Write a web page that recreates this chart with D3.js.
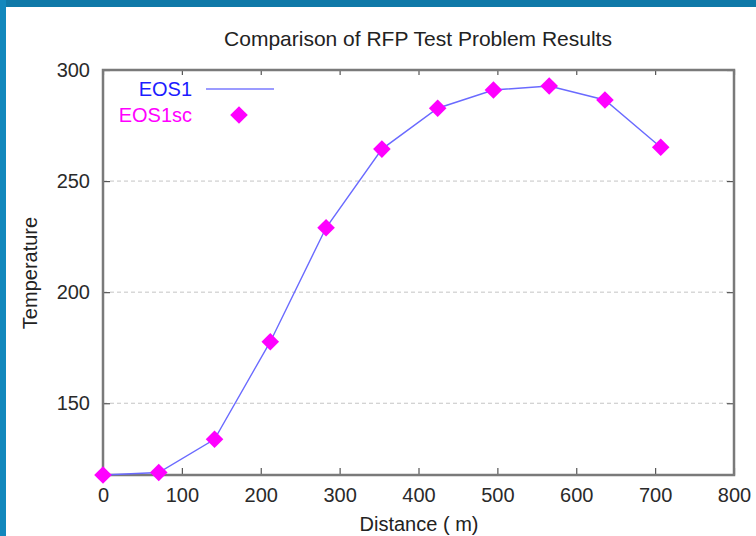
<!DOCTYPE html>
<html>
<head>
<meta charset="utf-8">
<script src="https://cdn.jsdelivr.net/npm/d3@7"></script>
<style>
  html, body { margin: 0; padding: 0; background: #fff; }
  svg { display: block; }
  text { font-family: "Liberation Sans", Arial, sans-serif; }
</style>
</head>
<body>
<div id="chart"></div>
<script>
// ---- data ----
const title = "Comparison of RFP Test Problem Results";
const xLabel = "Distance ( m)";
const yLabel = "Temperature";
const distance = [0, 70.7, 141.4, 212.1, 282.8, 353.6, 424.3, 495.0, 565.7, 636.4, 707.1];
const eos1     = [117.7, 118.8, 133.8, 177.7, 229.0, 264.4, 282.8, 291.0, 292.8, 286.5, 265.2];
const eos1sc   = [117.7, 118.8, 133.8, 177.7, 229.0, 264.4, 282.8, 291.0, 292.8, 286.5, 265.2];
const seriesNames = ["EOS1", "EOS1sc"];
const xTicks = [0, 100, 200, 300, 400, 500, 600, 700, 800];
const yTicks = [150, 200, 250, 300];
const xMax = 800, yMax = 300;

// ---- layout ----
const W = 756, H = 536;
const L = 103, R = 734, T = 70, B = 475;

const svg = d3.select("#chart").append("svg").attr("width", W).attr("height", H);

// blue frame (top and left)
svg.append("rect").attr("x", 0).attr("y", 0).attr("width", W).attr("height", 7).attr("fill", "#0f79a8");
svg.append("rect").attr("x", 0).attr("y", 0).attr("width", 6).attr("height", H).attr("fill", "#1288bd");

const x = d3.scaleLinear().domain([0, xMax]).range([L, R]);
const y = d3.scaleLinear().domain([d3.min(eos1sc), yMax]).range([B, T]);

// grid lines
svg.append("g").selectAll("line").data(yTicks.filter(t => t < yMax)).join("line")
  .attr("x1", L).attr("x2", R).attr("y1", d => y(d)).attr("y2", d => y(d))
  .attr("stroke", "#c4c4c4").attr("stroke-width", 1).attr("stroke-dasharray", "4,3");

// axes (ticks inward, on all four sides)
const tickLen = 7;
const axisColor = "#7a7a7a";
function styleAxis(g) {
  g.select(".domain").remove();
  g.selectAll(".tick line").attr("stroke", "#555").attr("stroke-width", 1.2);
  g.selectAll(".tick text").attr("fill", "#2a2a2a").style("font-size", "20px")
   .style("font-family", "'Liberation Sans', Arial, sans-serif");
}
svg.append("g").attr("transform", `translate(0,${B})`)
  .call(d3.axisBottom(x).tickValues(xTicks).tickSize(-tickLen).tickPadding(13).tickFormat(d3.format("d")))
  .call(styleAxis);
svg.append("g").attr("transform", `translate(0,${T})`)
  .call(d3.axisTop(x).tickValues(xTicks).tickSize(-5).tickFormat(""))
  .call(styleAxis);
svg.append("g").attr("transform", `translate(${L},0)`)
  .call(d3.axisLeft(y).tickValues(yTicks).tickSize(-tickLen).tickPadding(13).tickFormat(d3.format("d")))
  .call(styleAxis);
svg.append("g").attr("transform", `translate(${R},0)`)
  .call(d3.axisRight(y).tickValues(yTicks).tickSize(-tickLen).tickFormat(""))
  .call(styleAxis);

// frame
svg.append("rect").attr("x", L).attr("y", T).attr("width", R - L).attr("height", B - T)
  .attr("fill", "none").attr("stroke", axisColor).attr("stroke-width", 2.5);

// EOS1 line
const pts1 = distance.map((d, i) => [d, eos1[i]]);
svg.append("path").datum(pts1)
  .attr("d", d3.line().x(d => x(d[0])).y(d => y(d[1])))
  .attr("fill", "none").attr("stroke", "#6a6aff").attr("stroke-width", 1.4);

// EOS1sc diamonds
const diamond = d3.symbol().type(d3.symbolSquare).size(155);
const pts2 = distance.map((d, i) => [d, eos1sc[i]]);
svg.append("g").selectAll("path").data(pts2).join("path")
  .attr("d", diamond)
  .attr("transform", d => `translate(${x(d[0])},${y(d[1])}) rotate(45)`)
  .attr("fill", "#ff00ff");

// legend
const lg = svg.append("g");
lg.append("text").attr("x", 192).attr("y", 96).attr("text-anchor", "end")
  .attr("fill", "#1c1cff").style("font-size", "20px").text(seriesNames[0]);
lg.append("line").attr("x1", 206).attr("x2", 274).attr("y1", 89).attr("y2", 89)
  .attr("stroke", "#7a7aff").attr("stroke-width", 1.4);
lg.append("text").attr("x", 192).attr("y", 122).attr("text-anchor", "end")
  .attr("fill", "#ff00ff").style("font-size", "20px").text(seriesNames[1]);
lg.append("path").attr("d", diamond).attr("transform", "translate(239,115) rotate(45)").attr("fill", "#ff00ff");

// title and axis labels
svg.append("text").attr("x", 418).attr("y", 46).attr("text-anchor", "middle")
  .attr("fill", "#222").style("font-size", "21px").text(title);
svg.append("text").attr("x", 419).attr("y", 531).attr("text-anchor", "middle")
  .attr("fill", "#222").style("font-size", "20px").text(xLabel);
svg.append("text").attr("transform", "translate(37,273) rotate(-90)").attr("text-anchor", "middle")
  .attr("fill", "#222").style("font-size", "20px").text(yLabel);
</script>
</body>
</html>
